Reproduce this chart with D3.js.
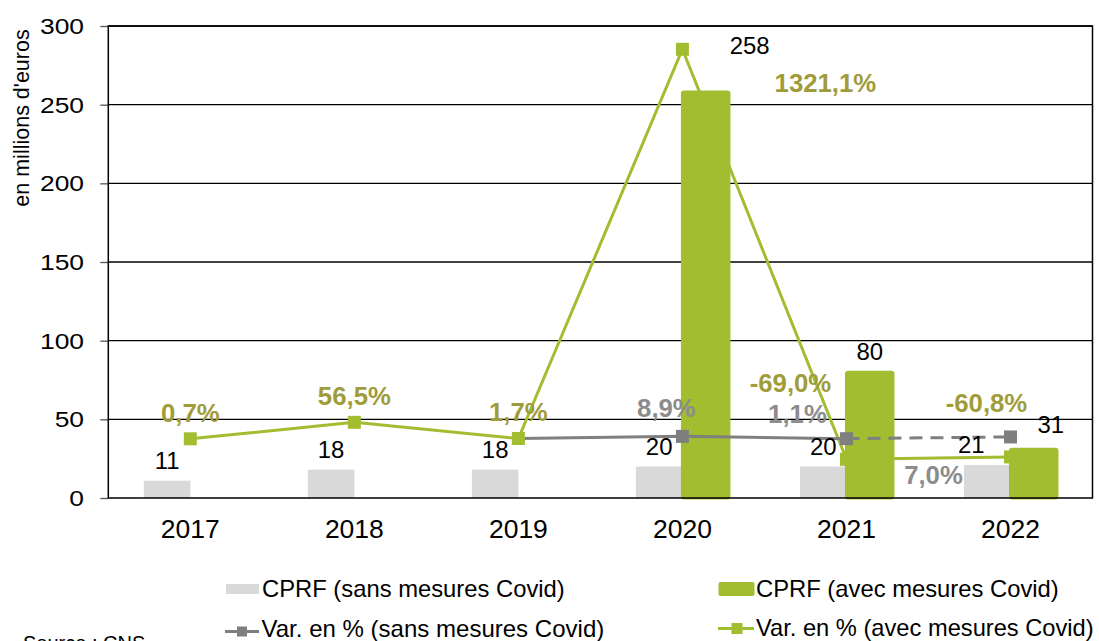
<!DOCTYPE html>
<html>
<head>
<meta charset="utf-8">
<script src="https://cdn.jsdelivr.net/npm/d3@7"></script>
<style>
  html, body { margin: 0; padding: 0; background: #fff; }
  text { font-family: "Liberation Sans", Arial, sans-serif; }
</style>
</head>
<body>
<svg id="chart" width="1099" height="641"></svg>
<script>
// ---------- data ----------
const years = ['2017', '2018', '2019', '2020', '2021', '2022'];
const cprfSans = [11, 18, 18, 20, 20, 21];            // CPRF (sans mesures Covid)
const cprfAvec = [null, null, null, 258, 80, 31];     // CPRF (avec mesures Covid)
const varSans = [null, null, 1.7, 8.9, 1.1, 7.0];     // Var. en % (sans mesures Covid)
const varAvec = [0.7, 56.5, 1.7, 1321.1, -69.0, -60.8]; // Var. en % (avec mesures Covid)
const yTicks = [0, 50, 100, 150, 200, 250, 300];
const y2Domain = [-200, 1400];                        // hidden secondary axis
const varSansDashedFrom = '2021';                     // dashed segment starts here
const showVarSansLabel = [false, false, false, true, true, true];

// label nudges (pixel offsets from default label anchor)
const nudgeVarAvec = { '2020': [143, 60], '2021': [-56, -50], '2022': [-24, -28] };
const nudgeVarSans = { '2020': [-16, -2], '2021': [-49, 1], '2022': [-77, 64] };
const nudgeBarAvec = { '2020': [44, -26], '2022': [17, -4] };
const nudgeBarSans = { '2022': [-16, 0] };

// ---------- style ----------
const C = {
  grey: '#d9d9d9', green: '#a3bd31', greyLine: '#7f7f7f',
  greenLbl: '#a09c3a', greyLbl: '#8c8c8c'
};
const M = { left: 108.3, right: 1092.5, top: 26, bottom: 498 };
const barW = 46.5;

const svg = d3.select('#chart');
const fmt = d3.formatLocale({ decimal: ',', thousands: ' ', grouping: [3], currency: ['', '€'], minus: '-' }).format('.1f');

const x = d3.scaleBand().domain(years).range([M.left, M.right]);
const xc = d => x(d) + x.bandwidth() / 2;
const y = d3.scaleLinear().domain([0, 300]).range([M.bottom, M.top]);
const y2 = d3.scaleLinear().domain(y2Domain).range([M.bottom, M.top]);

function txt(g, px, py, s, o) {
  const sx = o.sx || 1;
  return g.append('text')
    .attr('transform', `translate(${px},${py})` + (o.rot ? ` rotate(${o.rot})` : '') + ` scale(${sx},1)`)
    .attr('text-anchor', o.anchor || 'middle')
    .style('font-size', o.size + 'px')
    .style('font-weight', o.bold ? 'bold' : 'normal')
    .attr('fill', o.fill || '#000')
    .text(s);
}

// ---------- gridlines ----------
const grid = svg.append('g');
grid.selectAll('line.g').data(yTicks.filter(t => t > 0)).join('line')
  .attr('x1', M.left).attr('x2', M.right)
  .attr('y1', d => y(d)).attr('y2', d => y(d))
  .attr('stroke', '#000').attr('stroke-width', 1.3);

// y axis ticks & labels
const yAxis = svg.append('g').attr('transform', `translate(${M.left},0)`)
  .call(d3.axisLeft(y).tickValues(yTicks).tickSize(8).tickFormat(''));
yAxis.select('.domain').remove();
yAxis.selectAll('.tick line').attr('stroke', '#555').attr('stroke-width', 1.3);
yTicks.forEach(t => txt(svg, 84, y(t) + 7.9, String(t), { size: 22, anchor: 'end', sx: 1.2 }));

// y title
txt(svg, 28.5, 118, "en millions d'euros", { size: 21.5, rot: -90 });

// x labels
years.forEach(yr => txt(svg, xc(yr), 537.7, yr, { size: 25, sx: 1.06 }));

// ---------- grey bars ----------
const rows = years.map((yr, i) => ({ yr, sans: cprfSans[i], avec: cprfAvec[i], vs: varSans[i], va: varAvec[i], i }));
svg.append('g').selectAll('rect').data(rows).join('rect')
  .attr('x', d => xc(d.yr) - barW).attr('width', barW)
  .attr('y', d => y(d.sans)).attr('height', d => y(0) - y(d.sans))
  .attr('fill', C.grey);

// ---------- green line (avec) ----------
const lineAvec = d3.line().x(d => xc(d.yr)).y(d => y2(d.va));
svg.append('path').datum(rows).attr('d', lineAvec)
  .attr('fill', 'none').attr('stroke', C.green).attr('stroke-width', 3);

// ---------- green bars ----------
svg.append('g').selectAll('rect').data(rows.filter(d => d.avec != null)).join('rect')
  .attr('x', d => xc(d.yr)).attr('width', barW)
  .attr('y', d => y(d.avec)).attr('height', d => y(0) - y(d.avec))
  .attr('fill', C.green).attr('stroke', C.green).attr('stroke-width', 3)
  .attr('stroke-linejoin', 'round').attr('rx', 1.5);

// ---------- grey line (sans) ----------
const vsRows = rows.filter(d => d.vs != null);
const dashIdx = vsRows.findIndex(d => d.yr === varSansDashedFrom);
const lineSans = d3.line().x(d => xc(d.yr)).y(d => y2(d.vs));
svg.append('path').datum(vsRows.slice(0, dashIdx + 1)).attr('d', lineSans)
  .attr('fill', 'none').attr('stroke', C.greyLine).attr('stroke-width', 3);
svg.append('path').datum(vsRows.slice(dashIdx)).attr('d', lineSans)
  .attr('fill', 'none').attr('stroke', C.greyLine).attr('stroke-width', 3)
  .attr('stroke-dasharray', '13,8');
const mk = 13;
svg.append('g').selectAll('rect').data(vsRows.filter(d => showVarSansLabel[d.i])).join('rect')
  .attr('x', d => xc(d.yr) - mk / 2).attr('y', d => y2(d.vs) - mk / 2)
  .attr('width', mk).attr('height', mk).attr('fill', C.greyLine);

// green markers
svg.append('g').selectAll('rect').data(rows).join('rect')
  .attr('x', d => xc(d.yr) - mk / 2).attr('y', d => y2(d.va) - mk / 2)
  .attr('width', mk).attr('height', mk).attr('fill', C.green);

// ---------- labels ----------
const L = svg.append('g');
rows.forEach(d => {
  const n = nudgeBarSans[d.yr] || [0, 0];
  txt(L, xc(d.yr) - barW / 2 + n[0], y(d.sans) - 12 + n[1], String(d.sans), { size: 23, sx: 1.04 });
  if (d.avec != null) {
    const m = nudgeBarAvec[d.yr] || [0, 0];
    txt(L, xc(d.yr) + barW / 2 + m[0], y(d.avec) - 12 + m[1], String(d.avec), { size: 23, sx: 1.04 });
  }
});
rows.forEach(d => {
  const n = nudgeVarAvec[d.yr] || [0, 0];
  txt(L, xc(d.yr) + n[0], y2(d.va) - 17 + n[1], fmt(d.va) + '%', { size: 25, bold: true, fill: C.greenLbl, sx: 1.03 });
  if (d.vs != null && showVarSansLabel[d.i]) {
    const m = nudgeVarSans[d.yr] || [0, 0];
    txt(L, xc(d.yr) + m[0], y2(d.vs) - 17 + m[1], fmt(d.vs) + '%', { size: 25, bold: true, fill: C.greyLbl, sx: 1.03 });
  }
});

// ---------- plot border ----------
svg.append('rect').attr('x', M.left).attr('y', M.top)
  .attr('width', M.right - M.left).attr('height', M.bottom - M.top)
  .attr('fill', 'none').attr('stroke', '#000').attr('stroke-width', 1.5);

// ---------- legend ----------
const lg = svg.append('g');
lg.append('rect').attr('x', 226).attr('y', 584).attr('width', 33).attr('height', 10).attr('fill', C.grey);
txt(lg, 262, 596.5, 'CPRF (sans mesures Covid)', { size: 23, anchor: 'start', sx: 1.035 });
lg.append('rect').attr('x', 718.5).attr('y', 582).attr('width', 36).attr('height', 14).attr('rx', 2).attr('fill', C.green);
txt(lg, 756, 596.5, 'CPRF (avec mesures Covid)', { size: 23, anchor: 'start', sx: 1.035 });

lg.append('line').attr('x1', 225).attr('x2', 259).attr('y1', 631.5).attr('y2', 631.5).attr('stroke', C.greyLine).attr('stroke-width', 3);
lg.append('rect').attr('x', 237).attr('y', 626.5).attr('width', 10).attr('height', 10).attr('fill', C.greyLine);
txt(lg, 261.5, 637, 'Var. en % (sans mesures Covid)', { size: 23, anchor: 'start', sx: 1.045 });
lg.append('line').attr('x1', 718).attr('x2', 754).attr('y1', 628.5).attr('y2', 628.5).attr('stroke', C.green).attr('stroke-width', 3);
lg.append('rect').attr('x', 731.5).attr('y', 623).attr('width', 11).attr('height', 11).attr('fill', C.green);
txt(lg, 756, 636, 'Var. en % (avec mesures Covid)', { size: 23, anchor: 'start', sx: 1.03 });

// source
txt(svg, 23, 649.5, 'Source : CNS', { size: 20, anchor: 'start' });
</script>
</body>
</html>
